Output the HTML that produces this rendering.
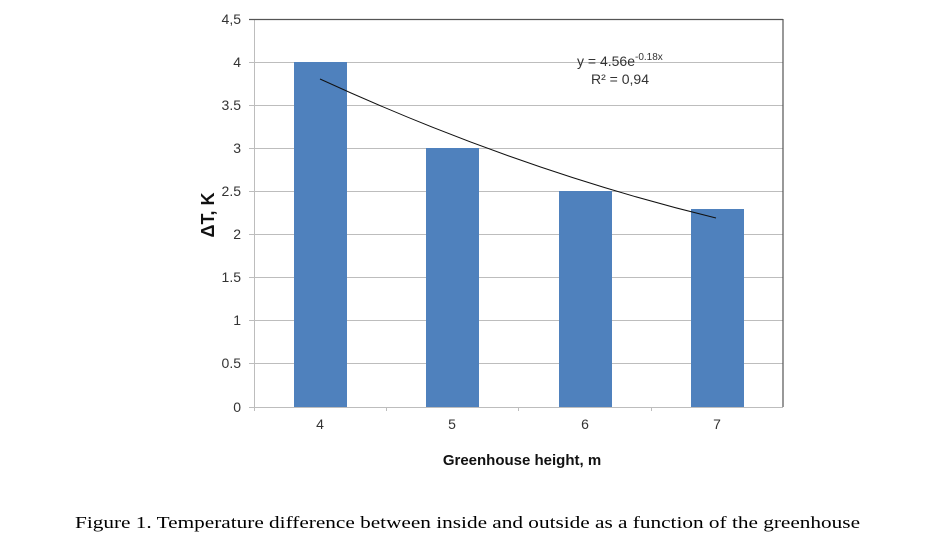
<!DOCTYPE html>
<html><head><meta charset="utf-8"><style>
body{margin:0;background:#fff;width:927px;height:545px;overflow:hidden}
</style></head><body>
<svg width="927" height="545" xmlns="http://www.w3.org/2000/svg" style="position:absolute;left:0;top:0">
<g stroke="#bdbdbd" stroke-width="1">
<line x1="249" y1="62.5" x2="783" y2="62.5"/>
<line x1="249" y1="105.5" x2="783" y2="105.5"/>
<line x1="249" y1="148.5" x2="783" y2="148.5"/>
<line x1="249" y1="191.5" x2="783" y2="191.5"/>
<line x1="249" y1="234.5" x2="783" y2="234.5"/>
<line x1="249" y1="277.5" x2="783" y2="277.5"/>
<line x1="249" y1="320.5" x2="783" y2="320.5"/>
<line x1="249" y1="363.5" x2="783" y2="363.5"/>
<line x1="249" y1="407.5" x2="783" y2="407.5"/>
<line x1="254.5" y1="19" x2="254.5" y2="411"/>
<line x1="386.5" y1="407" x2="386.5" y2="411"/>
<line x1="518.5" y1="407" x2="518.5" y2="411"/>
<line x1="651.5" y1="407" x2="651.5" y2="411"/>
</g>
<g stroke="#555" stroke-width="1.2">
<line x1="249" y1="19.5" x2="783" y2="19.5"/>
<line x1="783" y1="19" x2="783" y2="407"/>
</g>
<g fill="#4f81bd">
<rect x="294" y="62" width="53" height="345"/>
<rect x="426" y="148" width="53" height="259"/>
<rect x="559" y="191" width="53" height="216"/>
<rect x="691" y="209" width="53" height="198"/>
</g>
<path d="M320,79 Q518,170 716,218" fill="none" stroke="#111" stroke-width="1"/>
<g font-family="Liberation Sans, sans-serif" font-size="14" fill="#333" text-anchor="end">
<text x="241" y="24">4,5</text>
<text x="241" y="67">4</text>
<text x="241" y="110">3.5</text>
<text x="241" y="153">3</text>
<text x="241" y="196">2.5</text>
<text x="241" y="239">2</text>
<text x="241" y="282">1.5</text>
<text x="241" y="325">1</text>
<text x="241" y="368">0.5</text>
<text x="241" y="412">0</text>
</g>
<g font-family="Liberation Sans, sans-serif" font-size="14" fill="#333" text-anchor="middle">
<text x="320" y="429">4</text>
<text x="452" y="429">5</text>
<text x="585" y="429">6</text>
<text x="717" y="429">7</text>
</g>
<text x="522" y="465" font-family="Liberation Sans, sans-serif" font-size="15" font-weight="bold" text-anchor="middle" fill="#111">Greenhouse height, m</text>
<text transform="translate(214,215) rotate(-90)" font-family="Liberation Sans, sans-serif" font-size="18" font-weight="bold" text-anchor="middle" fill="#111">ΔT, K</text>
<text x="577" y="66" font-family="Liberation Sans, sans-serif" font-size="14" fill="#333">y = 4.56e<tspan font-size="10" dy="-6">-0.18x</tspan></text>
<text x="591" y="84" font-family="Liberation Sans, sans-serif" font-size="14" fill="#333">R² = 0,94</text>
<text x="75" y="528" font-family="Liberation Serif, serif" font-size="17" fill="#000" textLength="785" lengthAdjust="spacingAndGlyphs">Figure 1. Temperature difference between inside and outside as a function of the greenhouse</text>
</svg>
</body></html>
